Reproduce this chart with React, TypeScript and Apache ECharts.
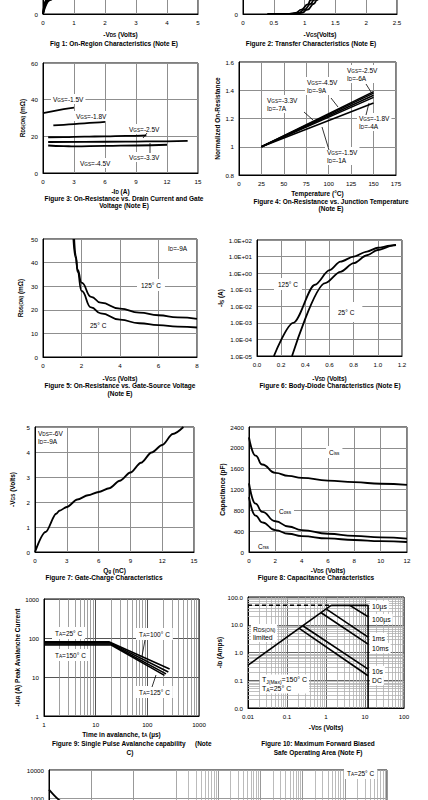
import React, { useEffect, useRef } from 'react';
import * as echarts from 'echarts';

// ---------------- data ----------------
// Fig 1: On-region characteristics (only the bottom strip is on the page)
const f1Vgs45 = [[0, 0], [0.1, 3.8], [0.3, 10], [0.6, 18], [1, 24], [1.5, 28], [2, 30]];
const f1Vgs33 = [[0, 0], [0.13, 3.8], [0.4, 10.5], [0.8, 18], [1.3, 23], [2, 26], [3, 28], [5, 29]];
const f1Vgs25 = [[0, 0], [0.17, 3.8], [0.5, 10], [1, 16], [1.5, 19], [2, 20.5], [3, 21.5], [5, 22]];
const f1Vgs18 = [[0, 0], [0.23, 3.8], [0.6, 8.5], [1, 11], [1.5, 12.5], [2, 13], [3, 13.5], [5, 14]];

// Fig 2: Transfer characteristics
const f2T125 = [[0.4, 0], [0.75, 0.03], [0.85, 0.3], [0.95, 1.2], [1.05, 2.6], [1.1, 3.8], [1.2, 6.5], [1.4, 13], [1.6, 20], [1.8, 27]];
const f2T25 = [[0.4, 0], [0.8, 0.03], [0.9, 0.3], [1.0, 1.2], [1.1, 2.8], [1.15, 3.8], [1.25, 6.5], [1.45, 13], [1.65, 20], [1.85, 27]];
const f2Tm40 = [[0.4, 0], [0.85, 0.03], [0.95, 0.3], [1.05, 1.2], [1.15, 2.8], [1.2, 3.8], [1.3, 6.5], [1.5, 13], [1.7, 20], [1.9, 27]];

// Fig 3: RDS(ON) vs ID
const f3Vgs15 = [[0, 32.7], [1, 33.8], [2, 34.8], [3, 35.6]];
const f3Vgs18 = [[1, 26], [2, 26.3], [3, 26.7], [4, 27.1], [5, 27.5], [6, 27.9]];
const f3Vgs25 = [[0.5, 19.5], [2, 19.6], [4, 19.8], [6, 20], [8, 20.2], [10, 20.5]];
const f3Vgs33 = [[0.5, 16.9], [4, 17], [8, 17.1], [12, 17.3], [14, 17.5]];
const f3Vgs45 = [[0.5, 15], [2, 14.7], [3, 14.5], [6, 14.8], [9, 15], [12, 15.4]];

// Fig 4: normalized RDS(ON) vs temperature
const f4Vgs25 = [[25, 1], [150, 1.39]];
const f4Vgs45 = [[25, 1], [150, 1.38]];
const f4Vgs33 = [[25, 1], [150, 1.365]];
const f4Vgs18 = [[25, 1], [150, 1.35]];
const f4Vgs15 = [[25, 1], [150, 1.31]];

// Fig 5: RDS(ON) vs VGS
const f5T125 = [[1.58, 50], [1.7, 42], [1.8, 37], [2, 31.5], [2.5, 25.5], [3, 23], [4, 20.5], [5, 18.8], [6, 17.7], [7, 16.8], [8, 16.2]];
const f5T25 = [[1.62, 50], [1.7, 43], [1.8, 36], [2, 28], [2.5, 21], [3, 18.5], [4, 15.8], [5, 14.3], [6, 13.5], [7, 12.9], [8, 12.5]];

// Fig 6: body diode
const f6T125 = [[0.14, 1e-5], [0.3, 1e-3], [0.48, 0.2], [0.6, 1.5], [0.69, 4.9], [0.8, 10], [0.91, 20], [1.0, 34], [1.1, 45], [1.15, 50]];
const f6T25 = [[0.29, 1e-5], [0.565, 0.25], [0.69, 1.2], [0.8, 4], [0.91, 12], [1.0, 25], [1.13, 48], [1.15, 50]];

// Fig 7: gate charge
const f7Qg = [[0, 0], [1, 0.8], [2, 1.53], [2.3, 1.65], [3, 1.8], [4, 2.1], [5, 2.27], [6, 2.4], [7, 2.55], [8, 2.85], [9, 3.18], [10, 3.57], [11, 3.98], [12, 4.28], [13, 4.72], [14, 5]];

// Fig 8: capacitance
const f8Ciss = [[0, 2200], [0.5, 1850], [1, 1680], [2, 1520], [3, 1460], [4, 1425], [6, 1370], [8, 1340], [10, 1310], [12, 1290]];
const f8Coss = [[0, 1320], [0.5, 930], [1, 770], [2, 590], [3, 490], [4, 420], [6, 350], [8, 310], [10, 280], [12, 255]];
const f8Crss = [[0, 1055], [0.5, 700], [1, 570], [2, 420], [3, 350], [4, 305], [6, 260], [8, 230], [10, 210], [12, 192]];

// Fig 9: avalanche
const f9T25 = [[1, 80], [18, 80], [270, 16]];
const f9T100 = [[1, 75], [19, 75], [255, 13.5]];
const f9T125 = [[1, 70], [19.5, 70], [230, 12]];
const f9T150 = [[1, 66], [20, 66], [215, 11]];

// Fig 10: SOA
const f10Dashed = [[0.01, 50], [1.35, 50]];
const f10Limit = [[1.35, 50], [12, 50], [12, 0.01]];
const f10Rds = [[0.01, 0.35], [1.35, 50]];
const f10Us100 = [[4.1, 50], [12, 19.5]];
const f10Ms1 = [[1.05, 36], [12, 3.6]];
const f10Ms10 = [[0.75, 27], [12, 2.0]];
const f10S10 = [[0.26, 9], [12, 0.25]];
const f10Dc = [[0.21, 7.3], [12, 0.145]];

// Fig 11: single pulse power (only the top strip is on the page)
const f11Power = [[1e-5, 2000], [2e-5, 760], [5e-5, 300], [1e-4, 160], [1e-3, 45], [1e-2, 15], [0.1, 6], [1, 2.5], [10, 1.4], [100, 1.1], [1000, 1]];

// ---------------- helpers ----------------
const FONT = '"Liberation Sans", Arial, Helvetica, sans-serif';
const GRID_C = '#8f8f8f';

function rt(src: string): string {
  return src
    .split('\n')
    .map((line) => {
      const out: string[] = [];
      const re = /_\{([^}]*)\}/g;
      let last = 0;
      let m: RegExpExecArray | null;
      while ((m = re.exec(line))) {
        if (m.index > last) out.push(`{n|${line.slice(last, m.index)}}`);
        out.push(`{s|${m[1]}}`);
        last = re.lastIndex;
      }
      if (last < line.length) out.push(`{n|${line.slice(last)}}`);
      return out.join('');
    })
    .join('\n');
}

function rich(size: number, lh: number, bold: boolean) {
  const w = bold ? 'bold' : 'normal';
  const s = Math.round(size * 0.72 * 10) / 10;
  return {
    n: { fontFamily: FONT, fontSize: size, fontWeight: w, color: '#000', lineHeight: lh },
    s: { fontFamily: FONT, fontSize: s, fontWeight: w, color: '#000', lineHeight: s + 0.5, verticalAlign: 'bottom' },
  };
}

const num = (v: number) => String(+Number(v).toPrecision(6));

function buildOption() {
  const grids: any[] = [];
  const xAxes: any[] = [];
  const yAxes: any[] = [];
  const series: any[] = [];
  const graphic: any[] = [];

  const axis = (gi: number, o: any) => ({
    gridIndex: gi,
    type: o.type || 'value',
    min: o.min,
    max: o.max,
    interval: o.type === 'log' ? undefined : o.interval,
    splitNumber: o.split,
    logBase: 10,
    axisLine: { show: true, onZero: false, lineStyle: { color: '#000', width: 1 } },
    axisTick: { show: false },
    splitLine: { show: true, lineStyle: { color: o.grid || GRID_C, width: 1 } },
    axisLabel: {
      show: o.labels !== false,
      fontSize: 6.2,
      fontFamily: FONT,
      color: '#000',
      margin: o.margin ?? 5,
      formatter: o.fmt || num,
      showMinLabel: true,
      showMaxLabel: true,
    },
    name: o.name ? rt(o.name) : '',
    nameLocation: 'middle',
    nameGap: o.gap ?? 15,
    nameTextStyle: { rich: rich(6.5, 8, true), fontFamily: FONT, fontSize: 6.5, fontWeight: 'bold', color: '#000' },
  });

  const panel = (pos: number[], xo: any, yo: any) => {
    const gi = grids.length;
    grids.push({
      left: pos[0], top: pos[1], width: pos[2], height: pos[3],
      show: true, borderColor: '#000', borderWidth: 1, backgroundColor: 'transparent',
      containLabel: false, outerBoundsMode: 'none',
    });
    xAxes.push(axis(gi, xo));
    yAxes.push(axis(gi, yo));
    return gi;
  };

  const curve = (gi: number, data: number[][], o: any = {}) => {
    series.push({
      type: 'line', xAxisIndex: gi, yAxisIndex: gi, data,
      symbol: 'none', showSymbol: false, silent: true, z: 3, clip: true,
      smooth: o.smooth ?? false, smoothMonotone: o.smooth ? 'x' : undefined,
      emphasis: { disabled: true },
      lineStyle: { color: '#000', width: o.w ?? 1.8, type: o.dash ? [4, 3] : 'solid' },
    });
  };

  const minorVals = (lo: number, hi: number) => {
    const v: number[] = [];
    for (let e = lo; e < hi; e++) for (let k = 2; k <= 9; k++) v.push(+(k * Math.pow(10, e)).toPrecision(3));
    return v;
  };

  const minors = (gi: number, anchor: number[], xs: number[], ys: number[], color: string) => {
    series.push({
      type: 'line', xAxisIndex: gi, yAxisIndex: gi, data: [anchor], symbol: 'none', showSymbol: false,
      silent: true, z: 1, lineStyle: { width: 0 },
      markLine: {
        silent: true, symbol: ['none', 'none'], label: { show: false }, z: 1, animation: false,
        emphasis: { disabled: true },
        lineStyle: { color, width: 0.8, type: 'solid' },
        data: [...xs.map((v) => ({ xAxis: v })), ...ys.map((v) => ({ yAxis: v }))],
      },
    });
  };

  const txt = (x: number, y: number, src: string, o: any = {}) => {
    const size = o.size ?? 6.5;
    graphic.push({
      type: 'text', x, y, z: 100, silent: true,
      style: {
        text: rt(src), rich: rich(size, o.lh ?? size + 1.5, !!o.bold),
        align: o.align ?? 'left', verticalAlign: 'middle',
        fontFamily: FONT, fontSize: size, fill: '#000',
        backgroundColor: o.bg ? '#fff' : undefined,
        padding: o.bg ? (o.pad ?? [1, 2]) : undefined,
      },
    });
  };
  const cap = (x: number, y: number, s: string, align = 'center') => txt(x, y, s, { size: 6.5, bold: true, align, lh: 7 });
  const arrow = (x1: number, y1: number, x2: number, y2: number) => {
    graphic.push({ type: 'line', z: 100, silent: true, shape: { x1, y1, x2, y2 }, style: { stroke: '#000', lineWidth: 0.8 } });
  };
  const onlyZero = (v: number) => (v === 0 ? '0' : '');

  // ---- Fig 1
  let g = panel([43, -96, 155, 110], { min: 0, max: 5, interval: 1, name: '-V_{DS} (Volts)', gap: 16 }, { min: 0, max: 30, interval: 5, fmt: onlyZero });
  curve(g, f1Vgs45, { smooth: true });
  curve(g, f1Vgs33, { smooth: true });
  curve(g, f1Vgs25, { smooth: true });
  curve(g, f1Vgs18, { smooth: true });
  cap(114, 43, 'Fig 1: On-Region Characteristics (Note E)');

  // ---- Fig 2
  g = panel([243, -96, 154, 110], { min: 0, max: 2.5, interval: 0.5, name: '-V_{GS}(Volts)', gap: 16 }, { min: 0, max: 30, interval: 5, fmt: onlyZero });
  curve(g, f2T125, { smooth: true });
  curve(g, f2T25, { smooth: true });
  curve(g, f2Tm40, { smooth: true });
  cap(311, 43, 'Figure 2: Transfer Characteristics (Note E)');

  // ---- Fig 3
  g = panel([43, 63, 155, 110], { min: 0, max: 15, interval: 3, name: '-I_{D} (A)', gap: 14 },
    { min: 0, max: 60, interval: 20, name: 'R_{DS(ON)} (mΩ)', gap: 17 });
  curve(g, f3Vgs15);
  curve(g, f3Vgs18, { smooth: true });
  curve(g, f3Vgs25, { smooth: true });
  curve(g, f3Vgs33, { smooth: true });
  curve(g, f3Vgs45, { smooth: true });
  txt(51, 99, 'V_{GS}=-1.5V', { bg: true });
  txt(74, 116, 'V_{GS}=-1.8V', { bg: true });
  txt(127, 129, 'V_{GS}=-2.5V', { bg: true });
  txt(127, 157, 'V_{GS}=-3.3V', { bg: true });
  txt(78, 163, 'V_{GS}=-4.5V', { bg: true });
  arrow(147, 133, 143, 138);
  arrow(150, 153, 150, 143);
  cap(124, 198, 'Figure 3: On-Resistance vs. Drain Current and Gate');
  cap(124, 205, 'Voltage (Note E)');

  // ---- Fig 4
  g = panel([239, 62, 157, 113], { min: 0, max: 175, interval: 25, name: 'Temperature (°C)', gap: 14 },
    { min: 0.8, max: 1.6, interval: 0.2, name: 'Normalized On-Resistance', gap: 18, fmt: (v: number) => String(Math.round(v * 10) / 10) });
  curve(g, f4Vgs25, { w: 1.5 });
  curve(g, f4Vgs45, { w: 1.5 });
  curve(g, f4Vgs33, { w: 1.5 });
  curve(g, f4Vgs18, { w: 1.5 });
  curve(g, f4Vgs15, { w: 1.5 });
  txt(345, 74, 'V_{GS}=-2.5V\nI_{D}=-6A', { bg: true, lh: 8 });
  txt(305, 86, 'V_{GS}=-4.5V\nI_{D}=-9A', { bg: true, lh: 8 });
  txt(265, 104, 'V_{GS}=-3.3V\nI_{D}=-7A', { bg: true, lh: 8 });
  txt(357, 122, 'V_{GS}=-1.8V\nI_{D}=-4A', { bg: true, lh: 8 });
  txt(325, 156, 'V_{GS}=-1.5V\nI_{D}=-1A', { bg: true, lh: 8 });
  arrow(331, 98, 338, 107);
  arrow(304, 112, 313, 120);
  arrow(366, 84, 371, 92);
  arrow(366, 115, 369, 103);
  arrow(329, 150, 322, 127);
  cap(331, 201, 'Figure 4: On-Resistance vs. Junction Temperature');
  cap(331, 208, '(Note E)');

  // ---- Fig 5
  g = panel([43, 239, 154, 118], { min: 0, max: 8, interval: 2, name: '-V_{GS} (Volts)', gap: 17 },
    { min: 0, max: 50, interval: 10, name: 'R_{DS(ON)} (mΩ)', gap: 19 });
  curve(g, f5T125, { smooth: true });
  curve(g, f5T25, { smooth: true });
  txt(166, 248, 'I_{D}=-9A', { bg: true });
  txt(137, 285, '125° C', { bg: true, pad: [2, 4] });
  txt(87, 325, '25° C', { bg: true, pad: [2, 3] });
  cap(120, 385, 'Figure 5: On-Resistance vs. Gate-Source Voltage');
  cap(120, 393, '(Note E)');

  // ---- Fig 6
  g = panel([257, 240, 145, 116], { min: 0, max: 1.2, interval: 0.2, name: '-V_{SD} (Volts)', gap: 18, fmt: (v: number) => v.toFixed(1) },
    {
      type: 'log', min: 1e-5, max: 100, split: 7, name: '-I_{S} (A)', gap: 29,
      fmt: (v: number) => { const e = Math.round(Math.log10(v)); return '1.0E' + (e < 0 ? '-' : '+') + String(Math.abs(e)).padStart(2, '0'); },
    });
  curve(g, f6T125, { smooth: 0.3 });
  curve(g, f6T25, { smooth: 0.3 });
  txt(274, 284, '125° C', { bg: true, pad: [2, 4] });
  txt(330, 312, '25° C', { bg: true, pad: [6, 8] });
  cap(330, 385, 'Figure 6: Body-Diode Characteristics (Note E)');

  // ---- Fig 7
  g = panel([35, 427, 159, 125], { min: 0, max: 15, interval: 3, name: 'Q_{g} (nC)', gap: 14 },
    { min: 0, max: 5, interval: 1, name: '-V_{GS} (Volts)', gap: 19 });
  curve(g, f7Qg, { smooth: 0.3 });
  txt(36, 437, 'V_{DS}=-6V\nI_{D}=-9A', { bg: true, lh: 8 });
  cap(104, 577, 'Figure 7: Gate-Charge Characteristics');

  // ---- Fig 8
  g = panel([249, 427, 158, 125], { min: 0, max: 12, interval: 2, name: '-V_{DS} (Volts)', gap: 14 },
    { min: 0, max: 2400, interval: 400, name: 'Capacitance (pF)', gap: 23 });
  curve(g, f8Ciss, { smooth: true });
  curve(g, f8Coss, { smooth: true });
  curve(g, f8Crss, { smooth: true });
  txt(326, 452, 'C_{iss}', { bg: true, pad: [2, 3] });
  txt(276, 511, 'C_{oss}', { bg: true, pad: [2, 3] });
  txt(256, 546, 'C_{rss}', { bg: true, pad: [1, 2] });
  cap(316, 577, 'Figure 8: Capacitance Characteristics');

  // ---- Fig 9
  g = panel([44, 599, 155, 117], { type: 'log', min: 1, max: 1000, name: 'Time in avalanche, t_{A} (µs)', gap: 14, grid: '#555' },
    { type: 'log', min: 1, max: 1000, name: '-I_{AR} (A) Peak Avalanche Current', gap: 22, grid: '#555' });
  minors(g, [1, 1], minorVals(0, 3), [], '#888');
  curve(g, f9T25, { w: 1.6 });
  curve(g, f9T100, { w: 1.6 });
  curve(g, f9T125, { w: 1.6 });
  curve(g, f9T150, { w: 1.6 });
  txt(52, 633, 'T_{A}=25° C', { bg: true, pad: [2, 3] });
  txt(52, 655, 'T_{A}=150° C', { bg: true, pad: [2, 3] });
  txt(136, 634, 'T_{A}=100° C', { bg: true, pad: [2, 3] });
  txt(136, 692, 'T_{A}=125° C', { bg: true, pad: [2, 3] });
  arrow(145, 640, 142, 656);
  arrow(152, 687, 156, 675);
  cap(52, 743, 'Figure 9: Single Pulse Avalanche capability', 'left');
  cap(195, 743, '(Note', 'left');
  cap(130, 752, 'C)');

  // ---- Fig 10
  g = panel([248, 597, 156, 111],
    { type: 'log', min: 0.01, max: 100, name: '-V_{DS} (Volts)', gap: 15, grid: '#666', fmt: (v: number) => String(+v.toPrecision(1)) },
    { type: 'log', min: 0.01, max: 100, name: '-I_{D} (Amps)', gap: 25, grid: '#666', fmt: (v: number) => v.toFixed(1) });
  minors(g, [0.01, 0.01], minorVals(-2, 2), minorVals(-2, 2), '#b0b0b0');
  curve(g, f10Dashed, { w: 1.5, dash: true });
  curve(g, f10Limit, { w: 1.6 });
  curve(g, f10Rds, { w: 1.6 });
  curve(g, f10Us100, { w: 1.6 });
  curve(g, f10Ms1, { w: 1.6 });
  curve(g, f10Ms10, { w: 1.6 });
  curve(g, f10S10, { w: 1.6 });
  curve(g, f10Dc, { w: 1.6 });
  txt(370, 606, '10µs', { bg: true, size: 6.8 });
  txt(370, 619, '100µs', { bg: true, size: 6.8 });
  txt(370, 638, '1ms', { bg: true, size: 6.8 });
  txt(370, 648, '10ms', { bg: true, size: 6.8 });
  txt(370, 671, '10s', { bg: true, size: 6.8 });
  txt(370, 680, 'DC', { bg: true, size: 6.8 });
  txt(251, 633, 'R_{DS(ON)}\nlimited', { bg: true, size: 6.8, lh: 8 });
  txt(260, 684, 'T_{J(Max)}=150° C\nT_{A}=25° C', { bg: true, size: 7, lh: 8.5 });
  cap(318, 743, 'Figure 10: Maximum Forward Biased');
  cap(318, 752, 'Safe Operating Area (Note F)');

  // ---- Fig 11
  g = panel([49, 770, 338, 112], { type: 'log', min: 1e-5, max: 1000, split: 8, labels: false, grid: '#999' },
    { type: 'log', min: 1, max: 10000, split: 4, grid: '#999', fmt: (v: number) => (v >= 1000 ? String(Math.round(v)) : '') });
  minors(g, [1e-5, 1], minorVals(-5, 3), [], '#aaa');
  curve(g, f11Power, { smooth: 0.2 });
  txt(344, 773, 'T_{A}=25° C', { bg: true, pad: [2, 3] });

  return {
    animation: false,
    backgroundColor: '#fff',
    grid: grids,
    xAxis: xAxes,
    yAxis: yAxes,
    series,
    graphic,
  };
}

export default function App() {
  const ref = useRef<HTMLDivElement>(null);
  useEffect(() => {
    if (!ref.current) return;
    const chart = echarts.init(ref.current, undefined, { renderer: 'svg' });
    chart.setOption(buildOption() as any);
    return () => chart.dispose();
  }, []);
  return (
    <div
      ref={ref}
      style={{ position: 'absolute', left: 0, top: 0, width: 428, height: 800, background: '#fff' }}
    />
  );
}
